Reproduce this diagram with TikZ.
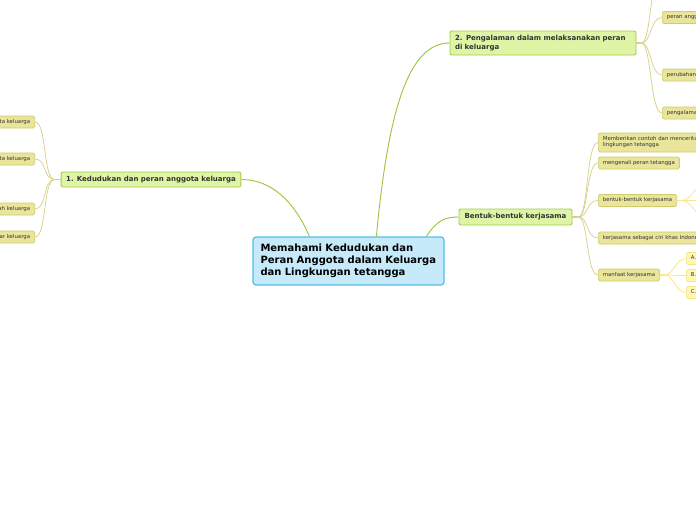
\documentclass[tikz,border=0pt]{standalone}
\usepackage{fontspec}
\setmainfont{DejaVu Sans}
\definecolor{cenF}{HTML}{C6EAFA}
\definecolor{cenB}{HTML}{56BCEB}
\definecolor{brF}{HTML}{DEF5A6}
\definecolor{brB}{HTML}{A5CB4A}
\definecolor{lfF}{HTML}{E9E69C}
\definecolor{lfB}{HTML}{D2CB6E}
\definecolor{sbF}{HTML}{FFF6B4}
\definecolor{sbB}{HTML}{F6E68A}
\definecolor{cgreen}{HTML}{9CC53E}
\definecolor{cleaf}{HTML}{D6CF86}
\definecolor{csub}{HTML}{F7E88E}
\definecolor{txt}{HTML}{333333}
\begin{document}
\begin{tikzpicture}[x=1pt,y=-1pt,
  central/.style={draw=cenB, fill=cenF, line width=1.2pt, rounded corners=3pt,
    text width=176pt, align=left, inner xsep=7.5pt, minimum height=48pt,
    font=\fontsize{10}{12}\selectfont\bfseries, text=black},
  branch/.style={draw=brB, fill=brF, line width=0.9pt, rounded corners=2pt,
    inner xsep=5pt, inner ysep=2pt, font=\fontsize{7}{8.5}\selectfont\bfseries, text=txt},
  leaf/.style={draw=lfB, fill=lfF, line width=0.7pt, rounded corners=1.5pt,
    inner xsep=4.5pt, inner ysep=1.5pt, minimum height=12pt,
    font=\fontsize{5.4}{6}\selectfont, text=txt, align=left},
  sub/.style={leaf, draw=sbB, fill=sbF},
  cbr/.style={draw=cgreen, line width=0.9pt},
  clf/.style={draw=cleaf, line width=0.7pt},
  csb/.style={draw=csub, line width=0.8pt},
  stub/.style={line width=1.6pt}
]
\useasboundingbox (0,0) rectangle (696,520);
\clip (0,0) rectangle (696,520);
\fill[white] (0,0) rectangle (696,520);

% central
\node[central] (c) at (348.5,261) {Memahami Kedudukan dan\\Peran Anggota dalam Keluarga\\dan Lingkungan tetangga};

% branches
\node[branch, minimum width=178pt, minimum height=15pt] (n1) at (151,179.5) {1. Kedudukan dan peran anggota keluarga};
\node[branch, text width=176pt, align=left, minimum height=24pt] (n2) at (543,43) {2. Pengalaman dalam melaksanakan peran\\di keluarga};
\node[branch, minimum width=113pt, minimum height=16pt] (n3) at (515.5,217) {Bentuk-bentuk kerjasama};

% central connectors
\draw[cbr] ([xshift=57pt]c.north west) .. controls +(-15,-35) and +(30,0) .. (n1.east);
\draw[cbr] ([xshift=124pt]c.north west) .. controls +(12,-130) and +(-40,0) .. (n2.west);
\draw[cbr] ([xshift=174pt]c.north west) .. controls +(10,-15) and +(-15,0) .. (n3.west);

% left leaves
\node[leaf, anchor=east] (l1) at (35,122) {kedudukan anggota keluarga};
\node[leaf, anchor=east] (l2) at (35,159) {peran anggota keluarga};
\node[leaf, anchor=east] (l3) at (35,209) {aturan dalam rumah keluarga};
\node[leaf, anchor=east] (l4) at (35,237) {hubungan antar keluarga};
\coordinate (j1) at ([xshift=-6pt]n1.west);
\foreach \l in {l1,l2,l3,l4}
  \draw[clf] (j1) .. controls +(-12,0) and +(12,0) .. (\l.east);
\draw[clf,stub] (n1.west) -- (j1);

% node 2 leaves
\coordinate (t0) at (662,-30);
\node[leaf, anchor=west] (r1) at (662,17.5) {peran anggota keluarga};
\node[leaf, anchor=west] (r2) at (662,75) {perubahan peran anggota keluarga};
\node[leaf, anchor=west] (r3) at (662,113) {pengalaman melaksanakan peran};
\coordinate (j2) at ([xshift=5pt]n2.east);
\draw[clf] (j2) .. controls +(10,0) and +(-12,0) .. (t0);
\foreach \l in {r1,r2,r3}
  \draw[clf] (j2) .. controls +(10,0) and +(-12,0) .. (\l.west);
\draw[clf,stub] (n2.east) -- (j2);

% node 3 leaves
\node[leaf, anchor=west, minimum height=19pt] (b1) at (598,142.5) {Memberikan contoh dan menceritakan peran di\\lingkungan tetangga};
\node[leaf, anchor=west] (b2) at (598,163) {mengenali peran tetangga};
\node[leaf, anchor=west] (b3) at (598,200.5) {bentuk-bentuk kerjasama};
\node[leaf, anchor=west] (b4) at (598,238) {kerjasama sebagai ciri khas Indonesia};
\node[leaf, anchor=west] (b5) at (598,275) {manfaat kerjasama};
\coordinate (j3) at ([xshift=6pt]n3.east);
\foreach \l in {b1,b2,b3,b4,b5}
  \draw[clf] (j3) .. controls +(10,0) and +(-12,0) .. (\l.west);
\draw[clf,stub] (n3.east) -- (j3);

% bentuk-bentuk kerjasama children (off page)
\coordinate (jb) at ([xshift=5pt]b3.east);
\coordinate (k1) at (712,178);
\coordinate (k2) at (712,200.5);
\coordinate (k3) at (712,223);
\foreach \k in {k1,k2,k3}
  \draw[csb] (jb) .. controls +(10,0) and +(-12,0) .. (\k);
\draw[csb,stub] (b3.east) -- (jb);

% manfaat children
\node[sub, anchor=west] (s1) at (686,258.5) {A. Pekerjaan cepat selesai};
\node[sub, anchor=west] (s2) at (686,275.5) {B. Pekerjaan terasa ringan};
\node[sub, anchor=west] (s3) at (686,292.5) {C. Mempererat persaudaraan};
\coordinate (jm) at ([xshift=5pt]b5.east);
\foreach \s in {s1,s2,s3}
  \draw[csb] (jm) .. controls +(8,0) and +(-10,0) .. (\s.west);
\draw[csb,stub] (b5.east) -- (jm);
\end{tikzpicture}
\end{document}
